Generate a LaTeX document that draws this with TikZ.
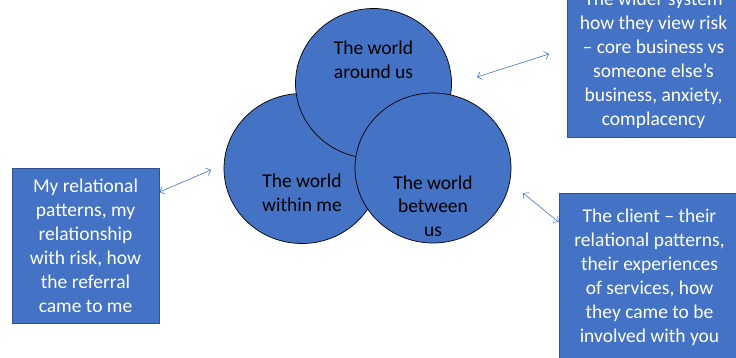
\documentclass[tikz,border=0pt]{standalone}
\usepackage{fontspec}
\setmainfont{Carlito}
\usepackage{tikz}
\usetikzlibrary{shapes.geometric, arrows.meta, positioning}
\usepackage{xcolor}
\definecolor{officeblue}{HTML}{4472C4}
\definecolor{boxedge}{HTML}{2F528F}

\begin{document}
\begin{tikzpicture}[
    x=1pt, y=-1pt,
    world/.style={ellipse, draw=black, line width=0.7pt, fill=officeblue, minimum width=156pt, minimum height=150pt},
    worldtext/.style={align=center, text=black, font=\fontsize{19.5}{23.5}\selectfont},
    infobox/.style={rectangle, draw=boxedge, line width=0.7pt, fill=officeblue, text=white, align=center, font=\fontsize{19.5}{24}\selectfont, inner sep=0pt},
    link/.style={{Straight Barb[length=4pt,width=8pt]}-{Straight Barb[length=4pt,width=8pt]}, draw=officeblue, line width=0.6pt}
]
    \clip (0,0) rectangle (736,357);

    % the three worlds
    \node[world] (within) at (302,168.5) {};
    \node[world] (around) at (373.5,83.5) {};
    \node[world] (between) at (433,168) {};
    \node[worldtext] (aroundtxt) at (373.5,60) {The world\\around us};
    \node[worldtext] (withintxt) at (302,193) {The world\\within me};
    \node[worldtext] (betweentxt) at (433,206) {The world\\between\\us};

    % notes
    \node[infobox, minimum width=147pt, minimum height=155pt] (selfbox) at (85.5,245.5) {My relational\\patterns, my\\relationship\\with risk, how\\the referral\\came to me};
    \node[infobox, minimum width=173pt, minimum height=154pt] (systembox) at (653.5,60) {The wider system\\how they view risk\\-- core business vs\\someone else’s\\business, anxiety,\\complacency};
    \node[infobox, minimum width=181pt, minimum height=168pt] (clientbox) at (649.5,277) {The client -- their\\relational patterns,\\their experiences\\of services, how\\they came to be\\involved with you};

    \coordinate (selfend) at (211,170);
    \coordinate (systemstart) at (477,77);
    \coordinate (systemend) at (549,54);
    \coordinate (clientend) at (523,193);

    \draw[link] ([yshift=53.5pt]selfbox.east) -- (selfend);
    \draw[link] (systemstart) -- (systemend);
    \draw[link] (clientend) -- ([yshift=55pt]clientbox.west);
\end{tikzpicture}
\end{document}
